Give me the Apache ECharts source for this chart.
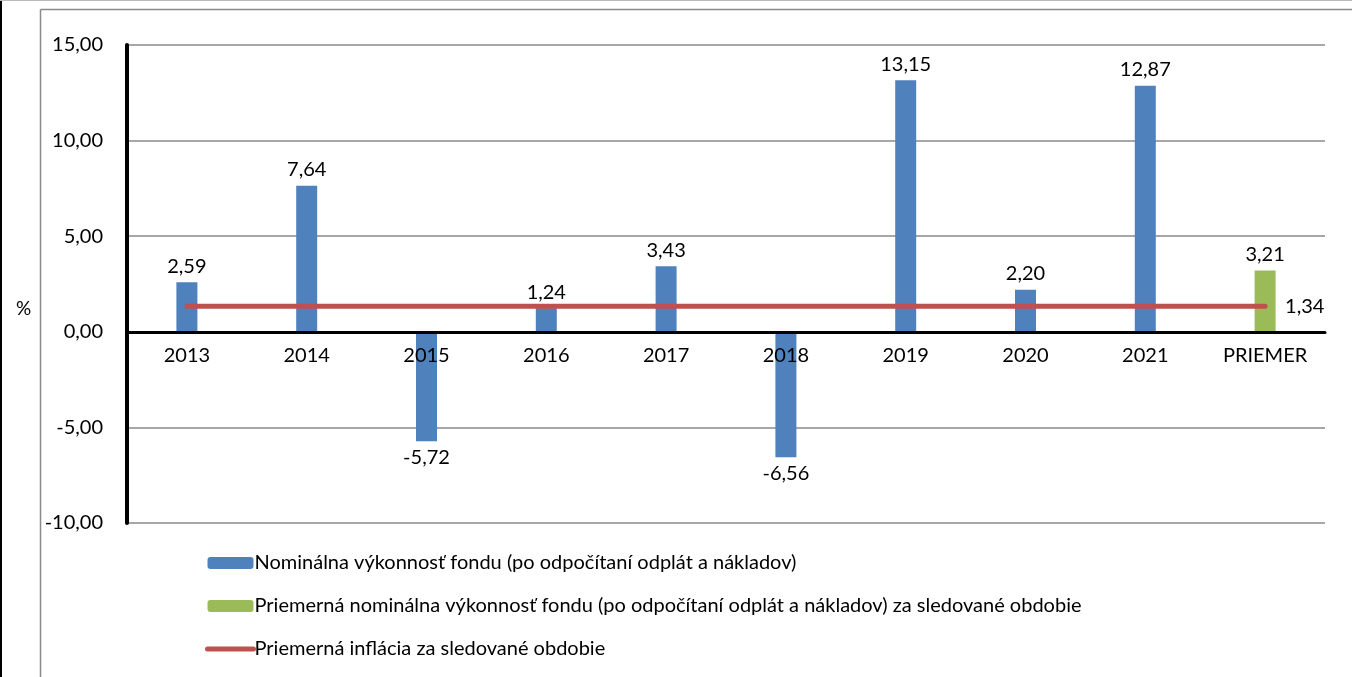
<!DOCTYPE html>
<html>
<head>
<meta charset="utf-8">
<script src="https://cdn.jsdelivr.net/npm/echarts@6/dist/echarts.min.js"></script>
<style>
  html, body { margin: 0; padding: 0; background: #fff; }
  #chart { width: 1352px; height: 677px; }
</style>
</head>
<body>
<div id="chart"></div>
<script>
// kategórie a hodnoty
const categories = ['2013', '2014', '2015', '2016', '2017', '2018', '2019', '2020', '2021', 'PRIEMER']
const performance = [2.59, 7.64, -5.72, 1.24, 3.43, -6.56, 13.15, 2.20, 12.87, null]
const averagePerformance = [null, null, null, null, null, null, null, null, null, 3.21]
const inflation = [1.34, 1.34, 1.34, 1.34, 1.34, 1.34, 1.34, 1.34, 1.34, 1.34]
const seriesNames = [
  'Nominálna výkonnosť fondu (po odpočítaní odplát a nákladov)',
  'Priemerná nominálna výkonnosť fondu (po odpočítaní odplát a nákladov) za sledované obdobie',
  'Priemerná inflácia za sledované obdobie'
]

const font = 'Lato, "Noto Sans", sans-serif'
const fmt = v => v.toFixed(2).replace('.', ',')

// popisky nad / pod stĺpcom podľa znamienka
const barData = arr => arr.map(v => v == null ? '-' : {
  value: v,
  label: { position: v < 0 ? 'bottom' : 'top' }
})

let chart = echarts.init(document.getElementById('chart'))
chart.setOption({
  animation: false,
  backgroundColor: '#fff',
  title: {
    text: '%',
    left: 11,
    top: 294,
    textStyle: { fontFamily: font, fontSize: 19, fontWeight: 'normal', color: '#000' }
  },
  graphic: [
    { type: 'rect', shape: { x: 0, y: 0, width: 2, height: 677 }, style: { fill: '#000' } },
    { type: 'rect', shape: { x: 0, y: 0, width: 1352, height: 1 }, style: { fill: '#bbb' } },
    { type: 'line', shape: { x1: 40.5, y1: 9.5, x2: 40.5, y2: 677 }, style: { stroke: '#8a8a8a', lineWidth: 1.5 } },
    { type: 'line', shape: { x1: 40.5, y1: 9.5, x2: 1352, y2: 9.5 }, style: { stroke: '#8a8a8a', lineWidth: 1.5 } }
  ],
  // druhý grid len kvôli popiskom kategórií na nulovej čiare
  grid: [
    { left: 127, right: 27, top: 45, bottom: 154 },
    { left: 127, right: 27, top: 45, bottom: 345 }
  ],
  legend: {
    orient: 'vertical',
    left: 200,
    top: 547,
    itemWidth: 46,
    itemHeight: 12,
    itemGap: 21,
    textStyle: { fontFamily: font, fontSize: 20, color: '#000', lineHeight: 22, padding: [0, 0, 0, -4] },
    data: [
      { name: seriesNames[0] },
      { name: seriesNames[1] },
      {
        name: seriesNames[2],
        itemStyle: { opacity: 0 },
        lineStyle: { width: 5, cap: 'round', color: '#C0504D' }
      }
    ]
  },
  xAxis: [
    {
      type: 'category',
      data: categories,
      axisLine: { onZero: true, lineStyle: { color: '#000', width: 3 } },
      axisTick: { show: false },
      axisLabel: { show: false },
      z: 5
    },
    {
      type: 'category',
      gridIndex: 1,
      data: categories,
      axisLine: { show: false },
      axisTick: { show: false },
      axisLabel: { color: '#000', fontFamily: font, fontSize: 20, margin: 14 },
      z: 10
    }
  ],
  yAxis: [
    {
      type: 'value',
      min: -10,
      max: 15,
      interval: 5,
      axisLine: { show: true, lineStyle: { color: '#000', width: 4 } },
      axisTick: { show: false },
      axisLabel: { color: '#000', fontFamily: font, fontSize: 20, margin: 24, formatter: fmt },
      splitLine: { lineStyle: { color: '#8a8a8a', width: 1.5 } }
    },
    {
      type: 'value',
      gridIndex: 1,
      show: false
    }
  ],
  series: [
    {
      name: seriesNames[0],
      type: 'bar',
      data: barData(performance),
      barWidth: 21,
      barGap: '-100%',
      itemStyle: { color: '#4F81BD' },
      label: {
        show: true,
        distance: 6,
        color: '#000',
        fontFamily: font,
        fontSize: 20,
        formatter: p => fmt(p.value)
      }
    },
    {
      name: seriesNames[1],
      type: 'bar',
      data: barData(averagePerformance),
      barWidth: 21,
      barGap: '-100%',
      itemStyle: { color: '#9BBB59' },
      label: {
        show: true,
        distance: 6,
        color: '#000',
        fontFamily: font,
        fontSize: 20,
        formatter: p => fmt(p.value)
      }
    },
    {
      name: seriesNames[2],
      type: 'line',
      data: inflation,
      symbol: 'none',
      z: 4,
      lineStyle: { color: '#C0504D', width: 5, cap: 'round' },
      itemStyle: { color: '#C0504D' },
      endLabel: {
        show: true,
        distance: 20,
        color: '#000',
        fontFamily: font,
        fontSize: 20,
        formatter: p => fmt(p.value)
      }
    }
  ]
})
</script>
</body>
</html>
